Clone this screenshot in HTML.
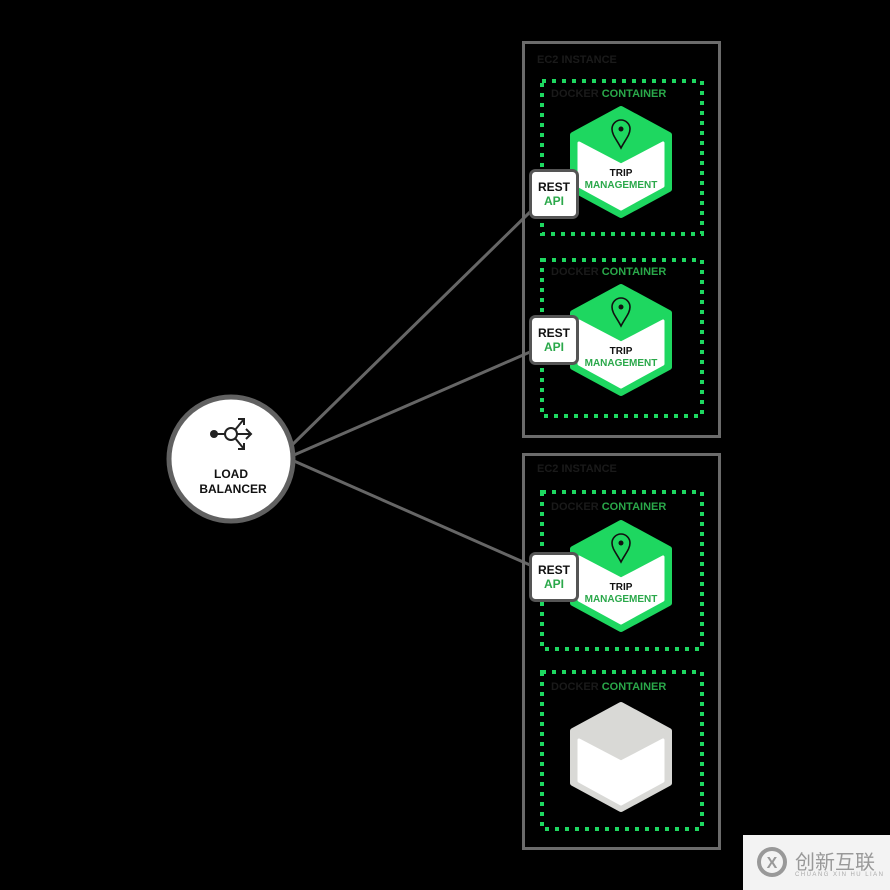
<!DOCTYPE html>
<html><head><meta charset="utf-8"><style>html,body{margin:0;padding:0;background:#000}svg{display:block}</style></head>
<body>
<svg width="890" height="890" viewBox="0 0 890 890" xmlns="http://www.w3.org/2000/svg" font-family="Liberation Sans, sans-serif">
<rect width="890" height="890" fill="#000"/>
<g stroke="#666" stroke-width="3" fill="none">
<line x1="292" y1="445" x2="530" y2="212"/>
<line x1="294" y1="455" x2="530" y2="352"/>
<line x1="294" y1="461" x2="530" y2="565"/>
</g>
<rect x="523.5" y="42.5" width="196" height="394" fill="none" stroke="#6b6b6b" stroke-width="3"/>
<rect x="523.5" y="454.5" width="196" height="394" fill="none" stroke="#6b6b6b" stroke-width="3"/>
<text x="537" y="63" font-size="11" font-weight="bold" fill="#1a1a1a">EC2 INSTANCE</text>
<text x="537" y="472" font-size="11" font-weight="bold" fill="#1a1a1a">EC2 INSTANCE</text>
<g fill="none" stroke="#1ed760" stroke-width="4" stroke-dasharray="4,6">
<rect x="542" y="81" width="160" height="153"/>
<rect x="542" y="260" width="160" height="156"/>
<rect x="542" y="492" width="160" height="157"/>
<rect x="542" y="672" width="160" height="157"/>
</g>
<g font-size="11" font-weight="bold">
<text x="551" y="97"><tspan fill="#1a1a1a">DOCKER </tspan><tspan fill="#2aa84a">CONTAINER</tspan></text>
<text x="551" y="275"><tspan fill="#1a1a1a">DOCKER </tspan><tspan fill="#2aa84a">CONTAINER</tspan></text>
<text x="551" y="510"><tspan fill="#1a1a1a">DOCKER </tspan><tspan fill="#2aa84a">CONTAINER</tspan></text>
<text x="551" y="690"><tspan fill="#1a1a1a">DOCKER </tspan><tspan fill="#2aa84a">CONTAINER</tspan></text>
</g>
<g id="h1" transform="translate(621,162)">
<path d="M0,-53 L48,-27 L48,27 L0,53 L-48,27 L-48,-27 Z" fill="#1ed760" stroke="#1ed760" stroke-width="6" stroke-linejoin="round"/>
<path d="M-42,-19 L0,3 L42,-19 L42,24 L0,47 L-42,24 Z" fill="#fff" stroke="#fff" stroke-width="3" stroke-linejoin="round"/>
<path d="M0,-14 C-4,-22 -9,-27 -9,-33 A9,9 0 0 1 9,-33 C9,-27 4,-22 0,-14 Z" fill="none" stroke="#111" stroke-width="1.6"/>
<circle cx="0" cy="-33" r="2.5" fill="#111"/>
<text x="0" y="14" font-size="10" font-weight="bold" fill="#111" text-anchor="middle">TRIP</text>
<text x="0" y="26" font-size="10" font-weight="bold" fill="#2aa84a" text-anchor="middle">MANAGEMENT</text>
</g>
<use href="#h1" transform="translate(0,178)"/>
<use href="#h1" transform="translate(0,414)"/>
<g transform="translate(621,757)">
<path d="M0,-52 L48,-26 L48,26 L0,52 L-48,26 L-48,-26 Z" fill="#d9d9d6" stroke="#d9d9d6" stroke-width="6" stroke-linejoin="round"/>
<path d="M-42,-17 L0,5 L42,-17 L42,24 L0,47 L-42,24 Z" fill="#fff" stroke="#fff" stroke-width="3" stroke-linejoin="round"/>
</g>
<g id="r1">
<rect x="530.5" y="170.5" width="47" height="47" rx="5" fill="#fff" stroke="#555" stroke-width="3"/>
<text x="554" y="191" font-size="12" font-weight="bold" fill="#111" text-anchor="middle">REST</text>
<text x="554" y="205" font-size="12" font-weight="bold" fill="#2aa84a" text-anchor="middle">API</text>
</g>
<use href="#r1" transform="translate(0,146)"/>
<use href="#r1" transform="translate(0,383)"/>
<circle cx="231" cy="459" r="62" fill="#fff" stroke="#616161" stroke-width="5"/>
<g stroke="#222" stroke-width="2" fill="none">
<line x1="215" y1="434" x2="225" y2="434"/>
<circle cx="231" cy="434" r="6" fill="#fff"/>
<line x1="237" y1="434" x2="251" y2="434"/>
<polyline points="246,429 251,434 246,439"/>
<line x1="235" y1="430" x2="244" y2="419"/>
<polyline points="238,419 244,419 244,425"/>
<line x1="235" y1="438" x2="244" y2="449"/>
<polyline points="238,449 244,449 244,443"/>
</g>
<circle cx="214" cy="434" r="4" fill="#222"/>
<text x="231" y="478" font-size="12" font-weight="bold" fill="#111" text-anchor="middle">LOAD</text>
<text x="233" y="493" font-size="12" font-weight="bold" fill="#111" text-anchor="middle">BALANCER</text>
<rect x="743" y="835" width="147" height="55" fill="#f3f3f3"/>
<circle cx="772" cy="862" r="13" fill="none" stroke="#999" stroke-width="4"/>
<text x="772" y="868" font-size="16" font-weight="bold" fill="#999" text-anchor="middle">X</text>
<text x="795" y="869" font-size="20" fill="#999" font-family="Liberation Sans, Noto Sans CJK SC, sans-serif">创新互联</text>
<text x="795" y="876" font-size="6" fill="#aaa" font-family="Liberation Sans, sans-serif" textLength="88">CHUANG XIN HU LIAN</text>
</svg>
</body></html>
